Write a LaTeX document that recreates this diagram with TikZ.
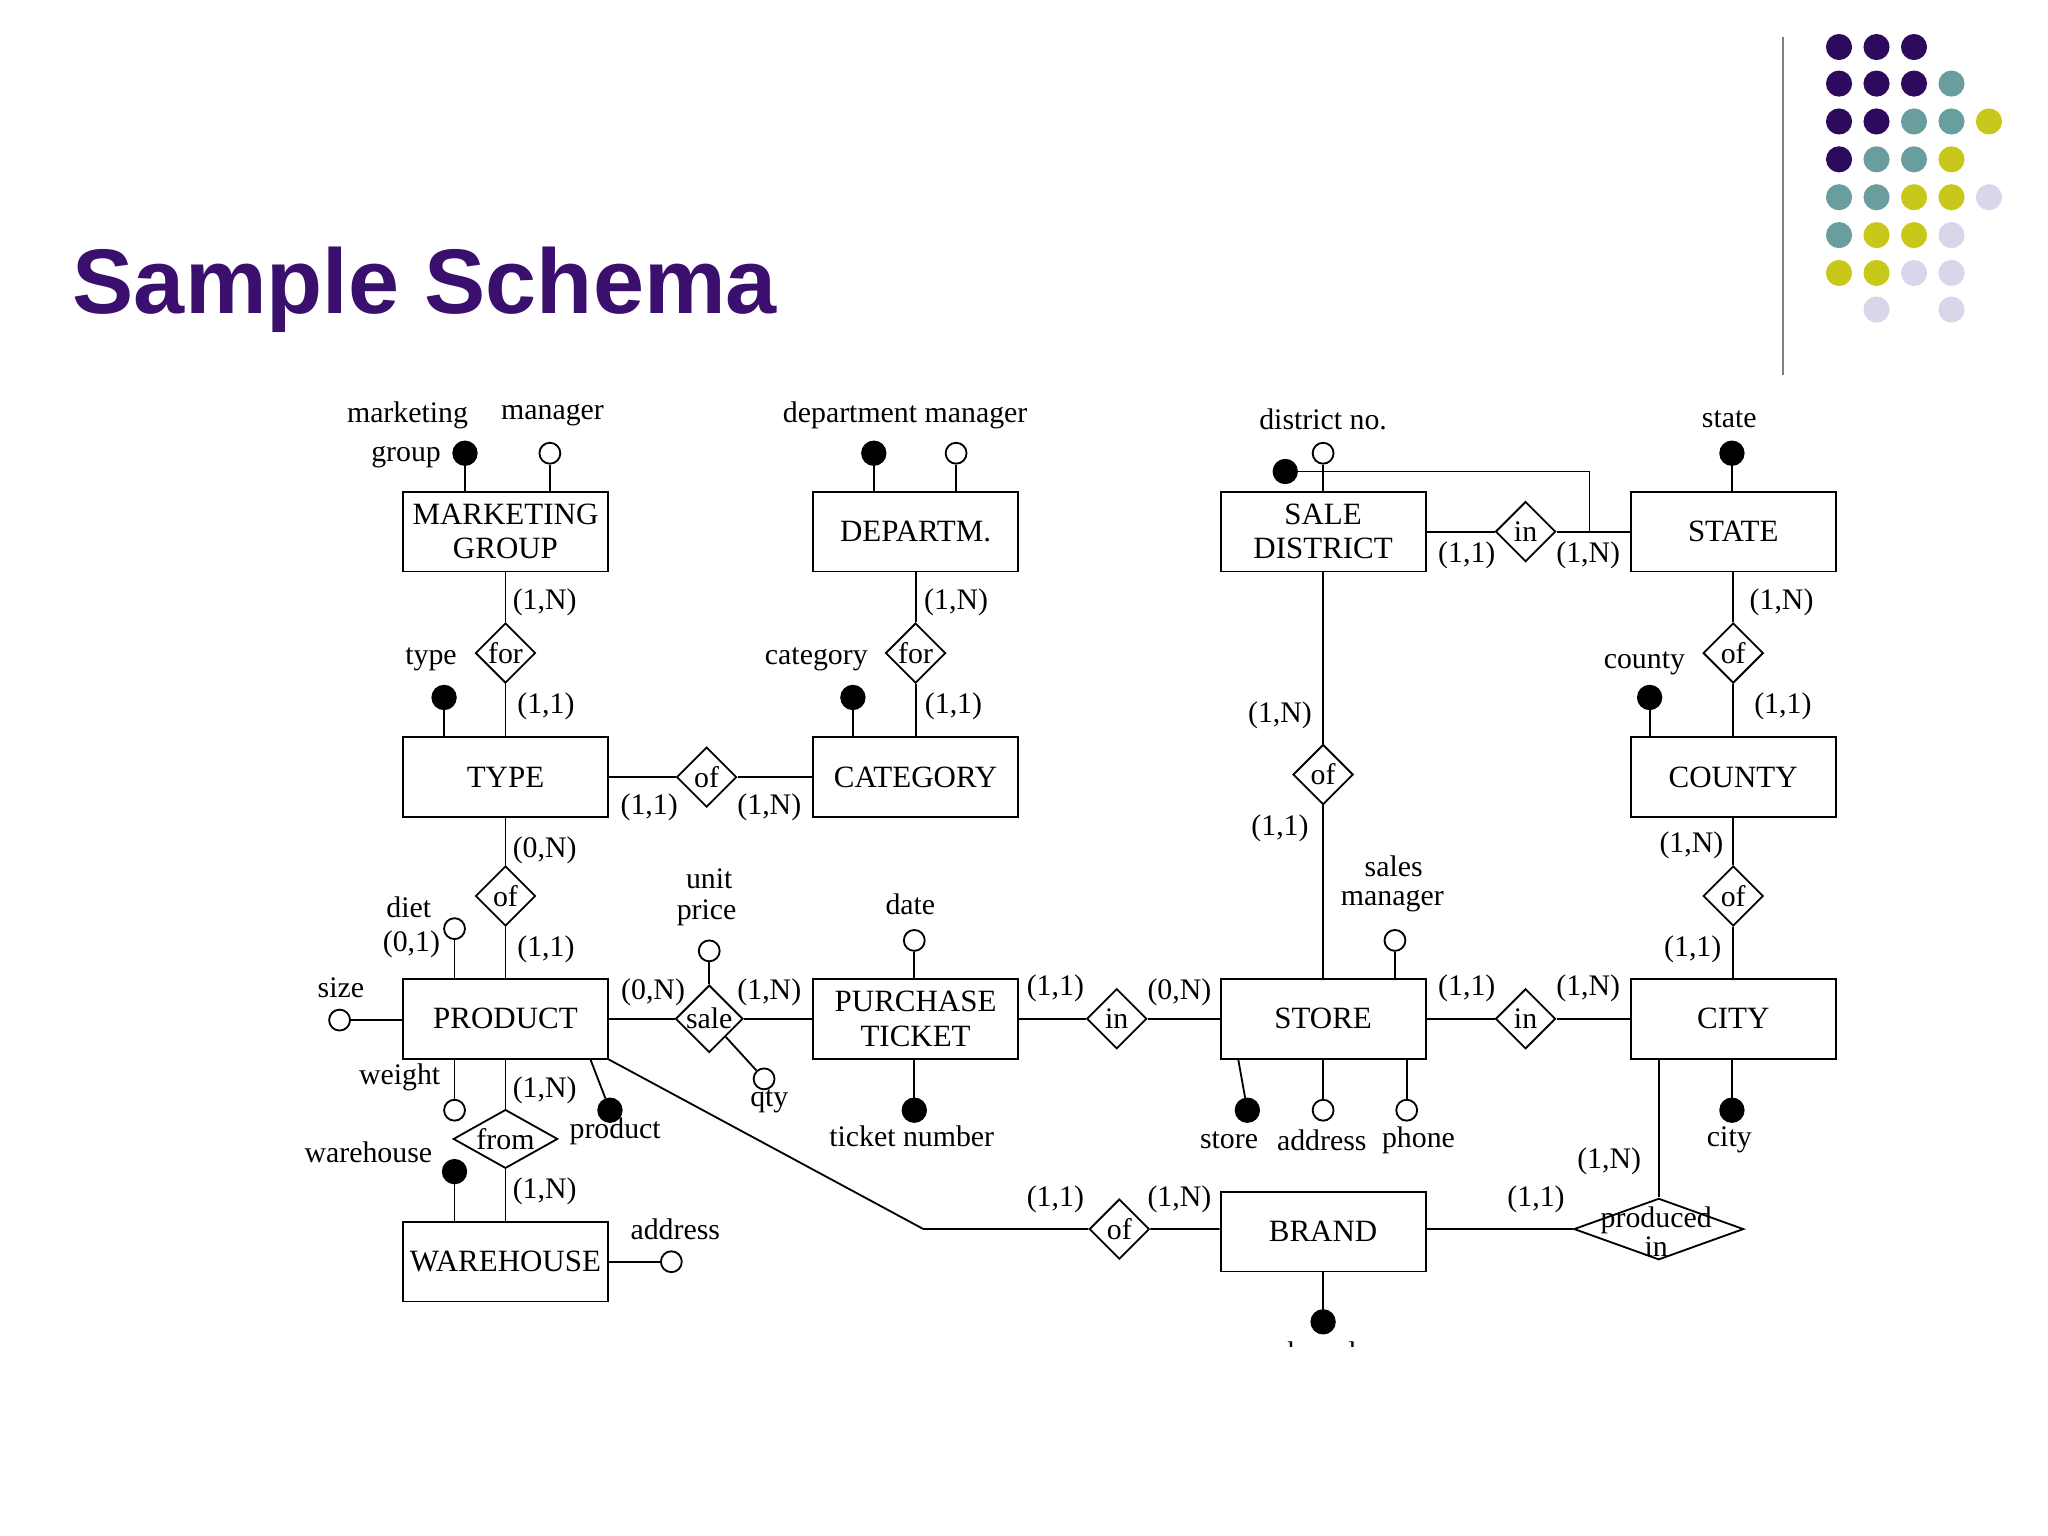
\documentclass[tikz,border=0pt]{standalone}
\usepackage{fontspec}
\setmainfont{Liberation Serif}
\newfontfamily\titlefont{Liberation Sans}
\usetikzlibrary{shapes.geometric}
\definecolor{ttl}{HTML}{3A0F6E}
\definecolor{dP}{HTML}{2E0A5E}
\definecolor{dT}{HTML}{6A9E9E}
\definecolor{dY}{HTML}{C8C81A}
\definecolor{dL}{HTML}{D8D6EA}
\begin{document}
\begin{tikzpicture}[x=0.02cm,y=-0.02cm,line width=0.8pt,
  every node/.style={font=\fontsize{13}{14}\selectfont},
  ent/.style={draw,rectangle,minimum width=3.14cm,minimum height=1.22cm,inner sep=0pt,align=center,font=\fontsize{13.5}{15}\selectfont},
  rel/.style={draw,diamond,minimum width=0.92cm,minimum height=0.92cm,inner sep=0pt},
  fa/.style={circle,fill=black,draw,minimum size=0.36cm,inner sep=0pt},
  ha/.style={circle,draw,fill=white,minimum size=0.32cm,inner sep=0pt},
  lab/.style={inner sep=1pt},
  dot/.style={circle,minimum size=0.4cm,inner sep=0pt}]
\useasboundingbox (0,0) rectangle (1568,1176);
% title and decoration
\node[anchor=base west,inner sep=0pt,font=\titlefont\bfseries\fontsize{40}{44}\selectfont,text=ttl] (title) at (55,240) {Sample Schema};
\coordinate (vt) at (1365,28); \coordinate (vb) at (1365,287);
\draw[gray,line width=1pt] (vt) -- (vb);
\foreach \r/\y/\cols in {0/36/{0/dP,1/dP,2/dP},1/64/{0/dP,1/dP,2/dP,3/dT},2/93/{0/dP,1/dP,2/dT,3/dT,4/dY},3/122/{0/dP,1/dT,2/dT,3/dY},4/151/{0/dT,1/dT,2/dY,3/dY,4/dL},5/180/{0/dT,1/dY,2/dY,3/dL},6/209/{0/dY,1/dY,2/dL,3/dL},7/237/{1/dL,3/dL}}{
  \foreach \c/\col in \cols {\node[dot,fill=\col] (d\r\c) at ({1408+28.7*\c},\y) {};}}
% entities
\node[ent] (mg) at (387,407) {MARKETING\\GROUP};
\node[ent] (dep) at (701,407) {DEPARTM.};
\node[ent] (sd) at (1013,407) {SALE\\DISTRICT};
\node[ent] (st) at (1327,407) {STATE};
\node[ent] (ty) at (387,595) {TYPE};
\node[ent] (cat) at (701,595) {CATEGORY};
\node[ent] (cty) at (1327,595) {COUNTY};
\node[ent] (pr) at (387,780) {PRODUCT};
\node[ent] (pt) at (701,780) {PURCHASE\\TICKET};
\node[ent] (sto) at (1013,780) {STORE};
\node[ent] (ci) at (1327,780) {CITY};
\node[ent] (wh) at (387,966) {WAREHOUSE};
\node[ent] (br) at (1013,943) {BRAND};
% relationships
\node[rel] (r1) at (387,500) {for};
\node[rel] (r2) at (701,500) {for};
\node[rel] (r3) at (1168,407) {in};
\node[rel] (r4) at (1327,500) {of};
\node[rel] (r5) at (541,595) {of};
\node[rel] (r6) at (1013,593) {of};
\node[rel] (r7) at (387,686) {of};
\node[rel] (r8) at (1327,686) {of};
\node[rel] (r9) at (543,780) {sale};
\node[rel] (r10) at (855,780) {in};
\node[rel] (r11) at (1168,780) {in};
\node[draw,diamond,minimum width=1.6cm,minimum height=0.9cm,inner sep=0pt] (r12) at (387,872) {};
\node[lab] (t12) at (387,872) {from};
\node[rel] (r13) at (857,941) {of};
\node[draw,diamond,minimum width=2.6cm,minimum height=0.94cm,inner sep=0pt] (r14) at (1270,941) {};
\node[lab,align=center,font=\fontsize{13}{9}\selectfont] (t14) at (1268,943) {produced\\in};
% connectors
\draw (mg) -- (r1) -- (ty);
\draw (dep) -- (r2) -- (cat);
\draw (sd) -- (r3) -- (st);
\draw (st) -- (r4) -- (cty);
\draw (ty) -- (r5) -- (cat);
\draw (sd) -- (r6) -- (sto);
\draw (ty) -- (r7) -- (pr);
\draw (cty) -- (r8) -- (ci);
\draw (pr.east) -- (r9) -- (pt.west);
\draw (pt.east) -- (r10) -- (sto.west);
\draw (sto.east) -- (r11) -- (ci.west);
\draw (pr) -- (r12) -- (wh);
\coordinate (bend) at (707,941);
\draw (pr.south east) -- (bend) -- (r13) -- (br.west |- r13);
\coordinate (cb) at (1273,811);
\draw (br.east |- r14) -- (r14.west);
\draw (r14.north) -- (r14.north |- cb);
% attributes
\node[fa] (a1) at (356,347) {}; \draw (a1) -- (a1 |- mg.north);
\node[ha] (a2) at (421,347) {}; \draw (a2) -- (a2 |- mg.north);
\node[lab] (l1) at (312,318) {marketing};
\node[lab,anchor=east] (l2) at (340,350) {group};
\node[lab] (l3) at (423,318) {manager};
\node[fa] (a3) at (669,347) {}; \draw (a3) -- (a3 |- dep.north);
\node[ha] (a4) at (732,347) {}; \draw (a4) -- (a4 |- dep.north);
\node[lab] (l4) at (693,318) {department manager};
\node[ha] (a5) at (1013,347) {}; \draw (a5) -- (a5 |- sd.north);
\node[fa] (a6) at (984,361) {};
\coordinate (k) at (1217,361);
\draw (a6) -- (k) -- (k |- r3);
\node[lab] (l5) at (1013,321) {district no.};
\node[fa] (a7) at (1326,347) {}; \draw (a7) -- (a7 |- st.north);
\node[lab] (l6) at (1324,321) {state};
\node[fa] (a8) at (340,534) {}; \draw (a8) -- (a8 |- ty.north);
\node[lab] (l7) at (330,505) {type};
\node[fa] (a9) at (653,534) {}; \draw (a9) -- (a9 |- cat.north);
\node[lab] (l8) at (625,505) {category};
\node[fa] (a10) at (1263,534) {}; \draw (a10) -- (a10 |- cty.north);
\node[lab] (l9) at (1259,508) {county};
\node[ha] (a11) at (348,711) {}; \draw (a11) -- (a11 |- pr.north);
\node[lab] (l10) at (313,695) {diet};
\node[lab] (l11) at (315,723) {(0,1)};
\node[ha] (a12) at (260,781) {}; \draw (a12) -- (pr.west |- a12);
\node[lab] (l12) at (261,756) {size};
\node[ha] (a13) at (348,850) {}; \draw (a13) -- (a13 |- pr.south);
\node[lab] (l13) at (306,825) {weight};
\node[fa] (a14) at (467,850) {}; \coordinate (pp) at (452,811); \draw (a14) -- (pp);
\node[lab] (l14) at (471,866) {product};
\node[fa] (a15) at (348,897) {}; \draw (a15) -- (a15 |- wh.north);
\node[lab] (l15) at (282,882) {warehouse};
\node[ha] (a16) at (514,966) {}; \draw (a16) -- (wh.east |- a16);
\node[lab] (l16) at (517,941) {address};
\node[ha] (a17) at (543,728) {}; \draw (a17) -- (r9.north);
\node[lab] (l17) at (543,673) {unit};
\node[lab] (l18) at (541,699) {price};
\node[ha] (a18) at (585,826) {}; \draw (a18) -- (r9);
\node[lab] (l19) at (589,843) {qty};
\node[ha] (a19) at (700,720) {}; \draw (a19) -- (a19 |- pt.north);
\node[lab] (l20) at (697,692) {date};
\node[fa] (a20) at (700,850) {}; \draw (a20) -- (a20 |- pt.south);
\node[lab] (l21) at (698,870) {ticket number};
\node[ha] (a21) at (1068,720) {}; \draw (a21) -- (a21 |- sto.north);
\node[lab] (l22) at (1067,663) {sales};
\node[lab] (l23) at (1066,690) {manager};
\node[fa] (a22) at (955,850) {}; \coordinate (sb) at (948,811); \draw (a22) -- (sb);
\node[lab] (l24) at (941,873) {store};
\node[ha] (a23) at (1013,850) {}; \draw (a23) -- (a23 |- sto.south);
\node[lab] (l25) at (1012,873) {address};
\node[ha] (a24) at (1077,850) {}; \draw (a24) -- (a24 |- sto.south);
\node[lab] (l26) at (1086,873) {phone};
\node[fa] (a25) at (1326,850) {}; \draw (a25) -- (a25 |- ci.south);
\node[lab] (l27) at (1324,873) {city};
\node[fa] (a26) at (1013,1012) {}; \draw (a26) -- (a26 |- br.south);
\node[lab] (l28) at (1012,1035) {brand};
% cardinalities
\foreach \n/\x/\y/\t in {c1/417/461/{(1,N)},c2/418/541/{(1,1)},c3/732/461/{(1,N)},c4/730/541/{(1,1)},
 c5/1123/425/{(1,1)},c6/1216/425/{(1,N)},c7/1364/461/{(1,N)},c8/1365/541/{(1,1)},
 c9/497/618/{(1,1)},c10/589/618/{(1,N)},c11/980/548/{(1,N)},c12/980/634/{(1,1)},
 c13/417/651/{(0,N)},c14/418/727/{(1,1)},c15/1295/647/{(1,N)},c16/1296/727/{(1,1)},
 c17/500/760/{(0,N)},c18/589/760/{(1,N)},c19/808/757/{(1,1)},c20/903/760/{(0,N)},
 c21/1123/757/{(1,1)},c22/1216/757/{(1,N)},c23/417/835/{(1,N)},c24/417/912/{(1,N)},
 c25/808/918/{(1,1)},c26/903/918/{(1,N)},c27/1176/918/{(1,1)},c28/1232/889/{(1,N)}}
 {\node[lab] (\n) at (\x,\y) {\t};}
% crop at bottom as in reference
\fill[white] (0,1031) rectangle (1568,1176);
\end{tikzpicture}
\end{document}
